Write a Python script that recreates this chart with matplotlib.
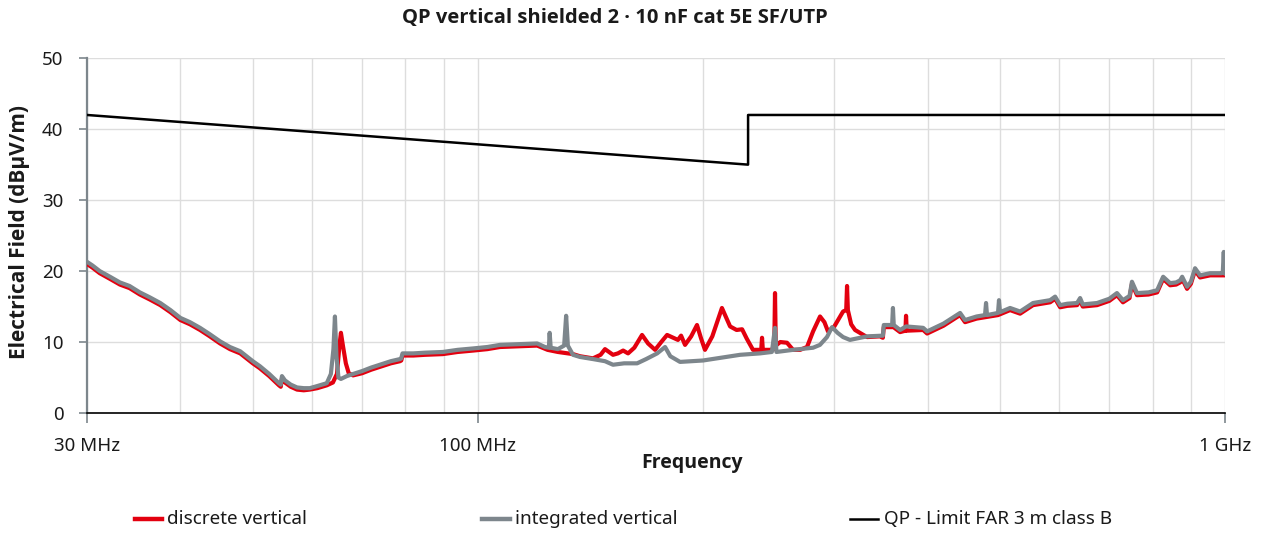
#!/usr/bin/env python3
"""QP vertical radiated emission scan, discrete vs integrated filter."""

import matplotlib

matplotlib.use("Agg")
import matplotlib.pyplot as plt
from matplotlib.lines import Line2D
from matplotlib.ticker import FixedLocator, NullFormatter

plt.rcParams["font.family"] = ["Noto Sans", "DejaVu Sans"]
BOLD_FAMILY = ["Open Sans", "Roboto", "DejaVu Sans"]

TITLE = "QP vertical shielded 2 · 10 nF cat 5E SF/UTP"
X_LABEL = "Frequency"
Y_LABEL = "Electrical Field (dBμV/m)"

# integrated vertical (grey)
INT_FREQ = [
    30.0, 30.5, 31.2, 32.2, 33.2, 34.2, 35.3, 36.4, 37.6, 38.8, 40.0, 41.2,
    42.5, 43.8, 45.2, 46.6, 48.1, 50.0, 51.1, 52.6, 54.2, 54.5, 54.7, 55.2,
    56.2, 57.3, 58.5, 59.6, 61.0, 62.8, 63.6, 64.1, 64.4, 64.7, 65.1, 65.6,
    66.8, 68.1, 70.0, 72.0, 74.0, 76.5, 78.7, 79.0, 79.3, 82.0, 85.0, 89.8,
    94.0, 98.6, 103.0, 107.1, 113.0, 120.1, 123.0, 124.5, 124.8, 125.2, 128.0,
    130.5, 131.3, 132.0, 134.1, 137.0, 142.6, 148.0, 151.7, 157.0, 163.4,
    168.0, 173.8, 178.1, 181.0, 186.5, 193.0, 200.2, 212.0, 224.4, 238.6,
    247.5, 249.9, 251.0, 264.2, 281.0, 287.0, 293.3, 297.9, 303.0, 308.2,
    314.8, 331.8, 348.4, 349.4, 358.5, 359.4, 360.3, 367.4, 374.2, 394.5,
    399.3, 420.0, 442.0, 448.8, 465.0, 477.3, 478.8, 480.2, 496.8, 498.3,
    499.8, 515.6, 531.8, 553.4, 583.3, 592.4, 601.6, 615.0, 633.9, 639.8,
    645.0, 674.1, 700.0, 716.7, 730.1, 745.0, 750.6, 762.3, 790.0, 811.2,
    826.3, 844.3, 860.0, 870.7, 876.2, 889.5, 900.0, 911.7, 925.9, 955.0,
    990.0, 993.0, 996.0, 998.0, 1000.0,
]
INT_LEVEL = [
    21.3, 20.8, 20.0, 19.2, 18.4, 17.9, 17.0, 16.3, 15.5, 14.5, 13.4, 12.8,
    12.0, 11.1, 10.1, 9.3, 8.7, 7.3, 6.6, 5.5, 4.2, 4.0, 5.2, 4.6,
    4.0, 3.6, 3.5, 3.5, 3.8, 4.2, 5.5, 9.0, 13.6, 8.0, 5.0, 4.8,
    5.2, 5.5, 5.9, 6.4, 6.8, 7.3, 7.6, 7.7, 8.4, 8.4, 8.5, 8.6,
    8.9, 9.1, 9.3, 9.6, 9.7, 9.8, 9.3, 9.2, 11.3, 9.2, 9.0,
    9.5, 13.7, 9.5, 8.2, 7.9, 7.6, 7.3, 6.8, 7.0, 7.0,
    7.6, 8.4, 9.3, 8.0, 7.2, 7.3, 7.4, 7.8, 8.2, 8.4,
    8.6, 12.0, 8.6, 8.9, 9.2, 9.6, 10.7, 12.1, 11.3, 10.7,
    10.3, 10.8, 10.9, 12.4, 12.4, 14.8, 12.4, 11.7, 12.2, 12.0,
    11.5, 12.6, 14.1, 13.1, 13.6, 13.8, 15.5, 13.8, 14.1, 15.9,
    14.2, 14.8, 14.3, 15.5, 15.9, 16.4, 15.2, 15.4, 15.5, 16.2,
    15.3, 15.5, 16.1, 16.9, 15.9, 16.5, 18.5, 16.9, 17.0, 17.3,
    19.2, 18.3, 18.4, 18.7, 19.2, 17.8, 18.5, 20.4, 19.4, 19.7,
    19.7, 19.8, 22.7, 19.9, 19.7,
]

# discrete vertical (red)
DIS_FREQ = [
    30.0, 30.5, 31.2, 32.2, 33.2, 34.2, 35.3, 36.4, 37.6, 38.8, 40.0, 41.2,
    42.5, 43.8, 45.2, 46.6, 48.1, 50.0, 51.1, 52.6, 54.2, 54.5, 54.7, 55.2,
    56.2, 57.3, 58.5, 59.6, 61.0, 62.8, 64.0, 64.8, 65.3, 65.6, 66.0, 66.6,
    67.2, 68.1, 70.0, 72.0, 74.0, 76.5, 78.7, 79.0, 79.3, 82.0, 85.0, 89.8,
    94.0, 98.6, 103.0, 107.1, 113.0, 120.1, 124.0, 128.0, 134.1, 137.0,
    142.6, 146.0, 148.0, 151.7, 154.0, 156.5, 158.9, 162.0, 165.9, 169.0,
    172.7, 176.0, 179.2, 185.3, 187.1, 189.4, 193.0, 196.5, 199.0, 201.4,
    206.0, 212.2, 217.6, 222.0, 225.8, 229.0, 233.5, 238.0, 239.5, 240.1,
    240.7, 246.1, 249.3, 249.9, 250.5, 254.0, 259.3, 264.2, 270.0, 275.8,
    281.0, 287.1, 291.0, 294.2, 300.0, 308.2, 311.2, 312.0, 312.8, 316.0,
    319.8, 331.8, 345.3, 348.4, 349.4, 360.0, 367.4, 373.5, 374.2, 375.0,
    394.5, 399.3, 420.0, 442.0, 448.8, 465.0, 477.3, 496.8, 515.6, 531.8,
    553.4, 583.3, 592.4, 601.6, 615.0, 633.9, 639.8, 645.0, 674.1, 700.0,
    716.7, 730.1, 745.0, 750.6, 762.3, 790.0, 811.2, 826.3, 844.3, 860.0,
    870.7, 876.2, 889.5, 900.0, 911.7, 925.9, 955.0, 990.0, 1000.0,
]
DIS_LEVEL = [
    21.0, 20.5, 19.7, 18.9, 18.1, 17.6, 16.7, 16.0, 15.2, 14.2, 13.1, 12.5,
    11.7, 10.8, 9.8, 9.0, 8.4, 7.0, 6.3, 5.2, 3.9, 3.7, 4.9, 4.3,
    3.7, 3.3, 3.2, 3.3, 3.5, 3.9, 4.3, 5.5, 9.5, 11.3, 9.5, 7.0,
    5.6, 5.3, 5.6, 6.1, 6.5, 7.0, 7.3, 7.4, 8.1, 8.1, 8.2, 8.3,
    8.6, 8.8, 9.0, 9.3, 9.4, 9.5, 8.9, 8.6, 8.3, 8.0,
    7.7, 8.2, 9.0, 8.2, 8.4, 8.8, 8.4, 9.2, 11.0, 9.8,
    8.9, 10.0, 11.0, 10.3, 10.9, 9.6, 10.8, 12.4, 10.5, 8.9,
    10.8, 14.8, 12.2, 11.7, 11.8, 10.5, 8.9, 8.9, 8.9, 10.6,
    8.9, 8.9, 9.0, 16.9, 9.5, 10.0, 9.9, 8.9, 8.9, 9.3,
    11.5, 13.6, 12.8, 11.5, 12.2, 14.3, 14.5, 17.9, 14.5, 12.5,
    11.7, 10.7, 10.8, 10.6, 12.1, 12.1, 11.4, 11.6, 13.7, 11.6,
    11.7, 11.2, 12.3, 13.8, 12.8, 13.3, 13.5, 13.8, 14.5, 14.0,
    15.2, 15.6, 16.1, 14.9, 15.1, 15.2, 15.9, 15.0, 15.2, 15.8,
    16.6, 15.6, 16.2, 18.2, 16.6, 16.7, 17.0, 18.9, 18.0, 18.1,
    18.4, 18.9, 17.5, 18.2, 20.1, 19.1, 19.4, 19.4, 19.4,
]

# QP limit FAR 3 m class B
LIMIT_FREQ = [30.0, 230.0, 230.0, 1000.0]
LIMIT_LEVEL = [42.0, 35.0, 42.0, 42.0]

X_TICKS = [30, 100, 1000]
X_TICK_LABELS = ["30 MHz", "100 MHz", "1 GHz"]
X_MINOR = [40, 50, 60, 70, 80, 90, 200, 300, 400, 500, 600, 700, 800, 900]
Y_TICKS = [0, 10, 20, 30, 40, 50]

RED = "#e3000f"
GREY = "#7d868c"
TEXT = "#1a1a1a"


def main() -> None:
    fig = plt.figure(figsize=(12.61, 5.34), dpi=100)
    ax = fig.add_axes([0.069, 0.2266, 0.9025, 0.6644])

    ax.plot(DIS_FREQ, DIS_LEVEL, color=RED, lw=3.0, solid_joinstyle="round", zorder=3)
    ax.plot(INT_FREQ, INT_LEVEL, color=GREY, lw=3.0, solid_joinstyle="round", zorder=4)
    ax.plot(LIMIT_FREQ, LIMIT_LEVEL, color="black", lw=1.8, zorder=5)

    ax.set_xscale("log")
    ax.set_xlim(30, 1000)
    ax.set_ylim(0, 50)
    ax.xaxis.set_major_locator(FixedLocator(X_TICKS))
    ax.set_xticklabels(X_TICK_LABELS)
    ax.xaxis.set_minor_locator(FixedLocator(X_MINOR))
    ax.xaxis.set_minor_formatter(NullFormatter())
    ax.set_yticks(Y_TICKS)

    ax.grid(True, which="both", axis="x", color="#dddddd", lw=1.0, zorder=0)
    ax.grid(True, which="major", axis="y", color="#dddddd", lw=1.0, zorder=0)
    ax.set_axisbelow(True)

    for side in ("top", "right"):
        ax.spines[side].set_visible(False)
    ax.spines["left"].set_color(GREY)
    ax.spines["left"].set_linewidth(1.6)
    ax.spines["bottom"].set_color("black")
    ax.spines["bottom"].set_linewidth(1.2)

    ax.tick_params(axis="x", which="major", length=7, width=1.2, color=GREY,
                   pad=10, labelsize=13.5, labelcolor=TEXT)
    ax.tick_params(axis="x", which="minor", length=0)
    ax.tick_params(axis="y", length=6, width=1.2, color=GREY, pad=11,
                   labelsize=13.5, labelcolor=TEXT)

    fig.text(615 / 1261, 1 - 18 / 534, TITLE, ha="center", va="center",
             fontsize=14.5, fontweight="bold", family=BOLD_FAMILY, color=TEXT)
    fig.text(692 / 1261, 1 - 463 / 534, X_LABEL, ha="center", va="center",
             fontsize=14, fontweight="bold", family=BOLD_FAMILY, color=TEXT)
    fig.text(20 / 1261, 1 - 232 / 534, Y_LABEL, ha="center", va="center",
             rotation=90, fontsize=15, fontweight="bold", family=BOLD_FAMILY,
             color=TEXT)

    # legend row
    legend_y = 1 - 519 / 534
    entries = [
        (135, 162, 167, RED, 3.2, "discrete vertical"),
        (482, 510, 515, GREY, 3.2, "integrated vertical"),
        (850, 878, 884, "black", 1.8, "QP - Limit FAR 3 m class B"),
    ]
    for x0, x1, xt, color, lw, label in entries:
        fig.add_artist(Line2D([x0 / 1261, x1 / 1261], [legend_y, legend_y],
                              color=color, lw=lw, transform=fig.transFigure))
        fig.text(xt / 1261, legend_y, label, ha="left", va="center",
                 fontsize=13.6, color=TEXT)

    fig.savefig("out.png", dpi=100)
    plt.close(fig)


if __name__ == "__main__":
    main()
